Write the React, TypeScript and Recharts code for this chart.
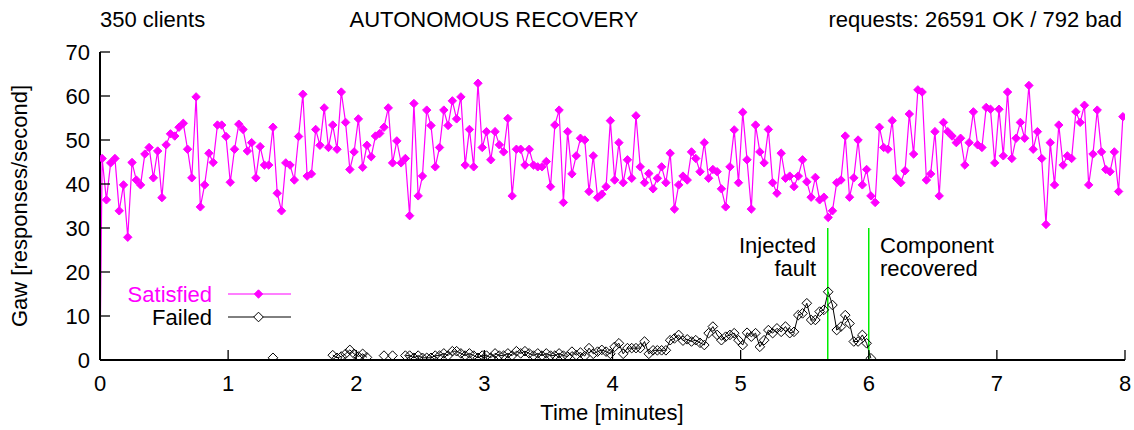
import React from 'react';
import { ComposedChart, Line, XAxis, YAxis, ReferenceLine, Customized } from 'recharts';

const FONT = '"Liberation Sans", Arial, Helvetica, sans-serif';

const headerLeft = '350 clients';
const headerTitle = 'AUTONOMOUS RECOVERY';
const headerRight = 'requests: 26591 OK / 792 bad';
const xLabel = 'Time [minutes]';
const yLabel = 'Gaw [responses/second]';
const legendSatisfied = 'Satisfied';
const legendFailed = 'Failed';
const injectedLabel = ['Injected', 'fault'];
const recoveredLabel = ['Component', 'recovered'];

const xTicks = [0, 1, 2, 3, 4, 5, 6, 7, 8];
const yTicks = [0, 10, 20, 30, 40, 50, 60, 70];

const sampleIntervalSec = 2;
const firstSampleSec = 1;

const satisfied = [
  45.8, 36.4, 44.8, 45.8, 33.9, 39.8, 27.9, 44.9, 40.9, 39.8, 46.8, 48.3, 41.4, 47.5, 36.9, 48.9, 51.4, 50.9, 52.9, 53.8, 47.9, 41.4, 59.8, 34.8, 39.8, 47.0, 44.9, 53.4, 53.4, 50.8, 40.4,
  47.9, 53.6, 52.4, 47.5, 49.4, 41.4, 48.5, 44.3, 44.3, 52.9, 37.9, 33.9, 44.8, 44.3, 40.9, 50.8, 60.4, 41.8, 42.3, 52.4, 48.8, 57.3, 48.3, 53.4, 47.9, 60.9, 54.0, 43.3, 47.3, 54.8,
  43.8, 48.8, 46.2, 50.9, 51.5, 52.9, 57.3, 44.8, 49.8, 44.8, 45.8, 32.8, 58.3, 37.3, 41.8, 56.8, 53.3, 43.9, 48.3, 56.8, 53.3, 58.9, 54.8, 59.8, 44.3, 52.4, 43.9, 62.9, 48.3, 51.9,
  45.5, 51.9, 48.9, 47.3, 54.9, 37.3, 47.9, 47.9, 44.3, 47.9, 44.3, 43.9, 43.9, 45.1, 39.4, 53.4, 56.8, 35.8, 51.9, 42.3, 46.4, 50.4, 50.0, 38.3, 46.4, 36.9, 37.7, 39.4, 54.4, 40.9,
  49.4, 40.3, 45.5, 41.3, 55.5, 43.9, 40.3, 42.4, 38.9, 41.3, 43.9, 40.3, 47.0, 34.3, 39.8, 41.8, 40.9, 47.3, 45.8, 42.8, 49.4, 41.3, 43.3, 42.8, 38.9, 34.8, 43.9, 52.3, 40.3, 56.3,
  45.5, 34.3, 53.4, 47.3, 44.8, 52.4, 40.3, 37.9, 47.0, 41.3, 41.8, 39.4, 41.8, 45.5, 40.5, 37.0, 41.5, 36.4, 37.0, 32.4, 33.9, 40.3, 40.9, 50.9, 37.0, 41.4, 50.0, 39.8, 43.3, 37.3, 35.8,
  52.9, 48.3, 47.9, 54.4, 41.3, 40.3, 43.0, 55.9, 46.8, 61.4, 60.9, 40.9, 42.3, 51.9, 37.3, 54.0, 51.9, 50.9, 49.4, 50.4, 44.3, 49.4, 56.4, 48.9, 48.3, 57.4, 57.0, 44.8, 57.0,
  46.4, 60.9, 45.8, 50.4, 54.0, 50.4, 62.4, 47.9, 51.9, 45.8, 30.8, 49.4, 39.8, 53.4, 44.3, 46.4, 45.8, 56.4, 54.0, 57.9, 39.8, 46.8, 56.8, 47.3, 43.3, 42.8, 47.3, 38.3, 55.3,
];

// failed samples, starting at sample index 40 (null = no sample)
const failedFirstIndex = 40;
const failed: (number | null)[] = [
  0.5, null, null, null, null, null, null, null, null, null, null, null, null, null,
  1.1, 0.5, 0.8, 1.4, 2.3, 1.4, 0.8, 1.4, 0.6,
  null, null, null, 1.0, null, 1.0, null, null,
  1.0, 1.0, 0.5, 1.0, 0.5, 0.5, 0.5, 1.0, 1.0, 1.5, 1.0, 2.0, 2.0, 1.5, 1.0, 1.5, 1.0, 0.5, 1.0,
  1.0, 0.5, 1.5, 1.0, 1.0, 1.5, 1.0, 2.0, 1.5, 2.0, 1.5, 1.0, 1.5, 1.0, 1.5, 1.0, 1.0, 1.5, 1.0,
  0.8, 1.9, 1.1, 1.7, 0.9, 2.7, 1.4, 1.9, 2.3, 1.9, 1.4, 3.0, 3.8, 1.4, 2.7, 2.7, 2.7, 2.7, 4.2, 1.4,
  2.2, 2.2, 2.2, 2.2, 4.5, 4.9, 5.7, 4.4, 4.7, 4.2, 4.5, 3.9, 3.4, 6.1, 7.6, 5.7, 4.5, 5.3, 5.7, 6.1,
  4.5, 3.4, 6.2, 5.3, 6.1, 3.0, 4.5, 6.8, 6.1, 7.2, 6.4, 7.6, 6.1, 6.4, 10.2, 10.6, 12.9, 9.1, 9.1, 11.0,
  11.4, 15.5, 12.5, 6.8, 7.6, 10.2, 8.3, 4.2, 4.2, 5.7, 3.8, 0.4,
];

const injectedFaultMin = 5.68;
const recoveredMin = 6.0;
const markerTop = 30;

const data = [
  { t: 0, s: 0, f: null as number | null },
  ...satisfied.map((v, i) => {
    const k = i - failedFirstIndex;
    return {
      t: (firstSampleSec + i * sampleIntervalSec) / 60,
      s: v,
      f: k >= 0 && k < failed.length ? failed[k] : null,
    };
  }),
];

const MAGENTA = '#ff00ff';
const GREEN = '#00ee00';

const diamond = (cx: number, cy: number, r: number) =>
  `M${cx},${cy - r}L${cx + r},${cy}L${cx},${cy + r}L${cx - r},${cy}Z`;

const SatDot = (p: any) => {
  const { cx, cy, index, payload } = p;
  if (cx == null || cy == null || !payload || payload.t === 0) return <g key={'sd' + index} />;
  return <path key={'sd' + index} d={diamond(cx, cy, 4.2)} fill={MAGENTA} stroke={MAGENTA} strokeWidth={1} />;
};

const FailDot = (p: any) => {
  const { cx, cy, index, payload } = p;
  if (cx == null || cy == null || !payload || payload.f == null) return <g key={'fd' + index} />;
  return <path key={'fd' + index} d={diamond(cx, cy, 4.8)} fill="none" stroke="#000" strokeWidth={1} />;
};

const Annotations = () => (
  <g fontFamily={FONT} fontSize={22}>
    <text x={100} y={27} fill="#000">{headerLeft}</text>
    <text x={494} y={27} fill="#000" textAnchor="middle">{headerTitle}</text>
    <text x={1122} y={27} fill="#000" textAnchor="end">{headerRight}</text>
    <text x={612} y={420} fill="#000" textAnchor="middle">{xLabel}</text>
    <text x={27} y={206} fill="#000" textAnchor="middle" transform="rotate(-90 27 206)">{yLabel}</text>
    <text x={212} y={302} fill={MAGENTA} textAnchor="end">{legendSatisfied}</text>
    <line x1={228} y1={294} x2={291} y2={294} stroke={MAGENTA} strokeWidth={1.2} />
    <path d={diamond(258.5, 294, 4.2)} fill={MAGENTA} stroke={MAGENTA} strokeWidth={1} />
    <text x={212} y={325} fill="#000" textAnchor="end">{legendFailed}</text>
    <line x1={228} y1={317} x2={291} y2={317} stroke="#000" strokeWidth={1} />
    <path d={diamond(258.5, 317, 4.8)} fill="#fff" stroke="#000" strokeWidth={1} />
    <text x={816} y={253} fill="#000" textAnchor="end">{injectedLabel[0]}</text>
    <text x={816} y={276} fill="#000" textAnchor="end">{injectedLabel[1]}</text>
    <text x={880} y={253} fill="#000">{recoveredLabel[0]}</text>
    <text x={880} y={276} fill="#000">{recoveredLabel[1]}</text>
  </g>
);

const tickStyle = { fill: '#000', fontSize: 22, fontFamily: FONT };
const axisLine = { stroke: '#000', strokeWidth: 2 };
const tickLine = { stroke: '#000', strokeWidth: 1.3 };

export default function App() {
  return (
    <div style={{ position: 'absolute', left: 0, top: 0, width: 1134, height: 430, background: '#fff' }}>
      <ComposedChart width={1134} height={430} data={data} margin={{ top: 52, right: 9, bottom: 0, left: 0 }}>
        <XAxis xAxisId="b" dataKey="t" type="number" domain={[0, 8]} ticks={xTicks} orientation="bottom"
          height={70} tickSize={-10} tickMargin={25} axisLine={axisLine} tickLine={tickLine} tick={tickStyle}
          allowDataOverflow interval={0} />
        <XAxis xAxisId="t" dataKey="t" type="number" domain={[0, 8]} ticks={xTicks} orientation="top"
          height={0} tickSize={-10} axisLine={axisLine} tickLine={tickLine} tick={false} allowDataOverflow interval={0} />
        <YAxis yAxisId="l" type="number" domain={[0, 70]} ticks={yTicks} width={100} tickSize={-10}
          tickMargin={20} axisLine={axisLine} tickLine={tickLine} tick={tickStyle} allowDataOverflow interval={0} />
        <YAxis yAxisId="r" orientation="right" type="number" domain={[0, 70]} ticks={yTicks} width={0}
          tickSize={-10} axisLine={axisLine} tickLine={tickLine} tick={false} allowDataOverflow interval={0} />
        <Line xAxisId="b" yAxisId="l" type="linear" dataKey="s" stroke={MAGENTA} strokeWidth={1.2}
          dot={SatDot} activeDot={false} isAnimationActive={false} />
        <Line xAxisId="b" yAxisId="l" type="linear" dataKey="f" stroke="#000" strokeWidth={1}
          dot={FailDot} activeDot={false} connectNulls={false} isAnimationActive={false} />
        <ReferenceLine xAxisId="b" yAxisId="l" segment={[{ x: injectedFaultMin, y: 0 }, { x: injectedFaultMin, y: markerTop }]}
          stroke={GREEN} strokeWidth={1.5} />
        <ReferenceLine xAxisId="b" yAxisId="l" segment={[{ x: recoveredMin, y: 0 }, { x: recoveredMin, y: markerTop }]}
          stroke={GREEN} strokeWidth={1.5} />
        <Customized component={Annotations} />
      </ComposedChart>
    </div>
  );
}
